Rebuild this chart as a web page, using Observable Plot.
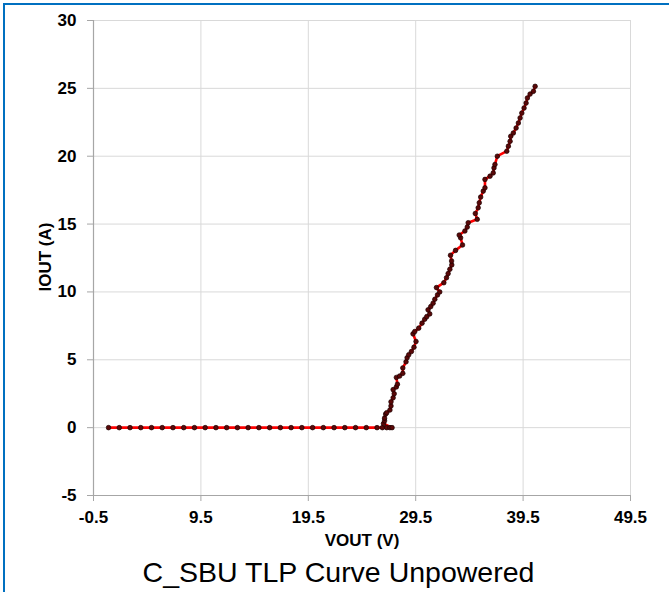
<!DOCTYPE html>
<html>
<head>
<meta charset="utf-8">
<script src="https://cdn.jsdelivr.net/npm/d3@7"></script>
<script src="https://cdn.jsdelivr.net/npm/@observablehq/plot@0.6"></script>
<style>
  html, body { margin: 0; padding: 0; background: #fff; }
  #wrap { position: relative; width: 669px; height: 592px; overflow: hidden; font-family: "Liberation Sans", Arial, sans-serif; }
  #border { position: absolute; left: 3px; top: 3px; width: 800px; height: 800px; border-top: 2px solid #0070c0; border-left: 2px solid #0070c0; }
  #chart { position: absolute; left: 0; top: 0; }
  #title { position: absolute; left: 4px; top: 558px; width: 669px; text-align: center; font-size: 28.5px; line-height: 28.5px; color: #000; white-space: nowrap; }
</style>
</head>
<body>
<div id="wrap">
  <div id="border"></div>
  <div id="chart"></div>
  <div id="title">C_SBU TLP Curve Unpowered</div>
</div>
<script>
const titleText = "C_SBU TLP Curve Unpowered";
const xLabel = "VOUT (V)";
const yLabel = "IOUT (A)";
const xTicks = [-0.5, 9.5, 19.5, 29.5, 39.5, 49.5];
const yTicks = [-5, 0, 5, 10, 15, 20, 25, 30];

// VOUT (V) readings
const vout = [
  0.9, 1.9, 2.9, 3.9, 4.9, 5.9, 6.9, 7.9, 8.9, 9.9, 10.9, 11.9, 12.9,
  13.9, 14.9, 15.9, 16.9, 17.9, 18.9, 19.9, 20.9, 21.9, 22.9, 23.9, 24.9, 25.9,
  26.4, 26.8, 27.1, 27.3,
  26.5, 26.6, 26.6, 26.7, 26.8, 27.1, 27.2, 27.2, 27.4, 27.5, 27.4, 27.7, 27.8,
  27.7, 28.0, 28.3, 28.3, 28.6, 28.7, 28.85, 29.1, 29.34, 29.53, 29.25, 29.41,
  29.78, 30.09, 30.34, 30.53, 30.81, 30.65, 30.9, 31.12, 31.28, 31.53, 31.74,
  31.43, 32.12, 32.37, 32.52, 32.68, 32.86, 32.84, 32.74, 33.21, 33.86, 33.68,
  33.55, 34.08, 34.3, 34.39, 35.23, 35.05, 35.32, 35.42, 35.55, 35.79, 35.95,
  35.95, 36.42, 36.72, 36.79, 36.88, 37.1, 37.98, 38.13, 38.29, 38.35, 38.59,
  38.85, 39.06, 39.22, 39.38, 39.59, 39.78, 39.9, 40.15, 40.46, 40.62
];
// IOUT (A) readings
const iout = [
  0, 0, 0, 0, 0, 0, 0, 0, 0, 0, 0, 0, 0,
  0, 0, 0, 0, 0, 0, 0, 0, 0, 0, 0, 0, 0,
  0, 0, 0, 0,
  0.3, 0.5, 0.7, 1.0, 1.1, 1.3, 1.6, 1.9, 2.2, 2.5, 2.8, 3.0, 3.2,
  3.7, 3.8, 4.0, 4.4, 4.85, 5.15, 5.37, 5.61, 5.93, 6.35, 6.91, 7.08,
  7.33, 7.7, 7.99, 8.18, 8.38, 8.68, 8.92, 9.17, 9.46, 9.78, 10.0,
  10.32, 10.68, 11.05, 11.35, 11.67, 11.99, 12.28, 12.7, 13.06, 13.46, 13.99,
  14.19, 14.49, 14.78, 15.1, 15.35, 15.78, 16.2, 16.57, 16.99, 17.43, 17.67,
  18.29, 18.53, 18.77, 19.14, 19.39, 20.0, 20.37, 20.74, 21.1, 21.47, 21.71,
  22.08, 22.45, 22.82, 23.18, 23.55, 23.92, 24.29, 24.58, 24.78, 25.15
];

const data = vout.map((v, i) => ({v, i: iout[i]}));
const fmtX = d => d.toFixed(1);
const fmtY = d => String(d);

const font = "Liberation Sans, Arial, sans-serif";
const chart = Plot.plot({
  width: 669,
  height: 552,
  marginLeft: 93,
  marginRight: 39,
  marginTop: 20,
  marginBottom: 57,
  style: {fontFamily: font, fontSize: "17px", color: "#000", background: "transparent", overflow: "visible"},
  x: {domain: [-0.5, 49.5]},
  y: {domain: [-5, 30]},
  marks: [
    Plot.gridX(xTicks, {stroke: "#d9d9d9", strokeOpacity: 1, strokeWidth: 1}),
    Plot.gridY(yTicks, {stroke: "#d9d9d9", strokeOpacity: 1, strokeWidth: 1}),
    Plot.ruleY([-5], {stroke: "#a6a6a6", strokeWidth: 1.2}),
    Plot.ruleX([-0.5], {stroke: "#a6a6a6", strokeWidth: 1.2}),
    Plot.axisX(xTicks, {tickSize: 6, tickPadding: 9, label: null, stroke: "#a6a6a6", fill: "#000", fontWeight: "bold", fontSize: 17, tickFormat: fmtX}),
    Plot.axisY(yTicks, {tickSize: 6, tickPadding: 11, label: null, stroke: "#a6a6a6", fill: "#000", fontWeight: "bold", fontSize: 17, tickFormat: fmtY}),
    Plot.line(data, {x: "v", y: "i", stroke: "#ff0000", strokeWidth: 2.6}),
    Plot.dot(data, {x: "v", y: "i", r: 2.3, fill: "#5a0808", stroke: "#1a0000", strokeWidth: 0.7})
  ]
});

const svg = d3.select(chart);
svg.append("text")
  .attr("x", 362).attr("y", 546)
  .attr("text-anchor", "middle")
  .attr("font-family", font).attr("font-size", 17).attr("font-weight", "bold").attr("fill", "#000")
  .text(xLabel);
svg.append("text")
  .attr("transform", "translate(51,257) rotate(-90)")
  .attr("text-anchor", "middle")
  .attr("font-family", font).attr("font-size", 17).attr("font-weight", "bold").attr("fill", "#000")
  .text(yLabel);

document.getElementById("chart").appendChild(chart);
document.getElementById("title").textContent = titleText;
</script>
</body>
</html>
